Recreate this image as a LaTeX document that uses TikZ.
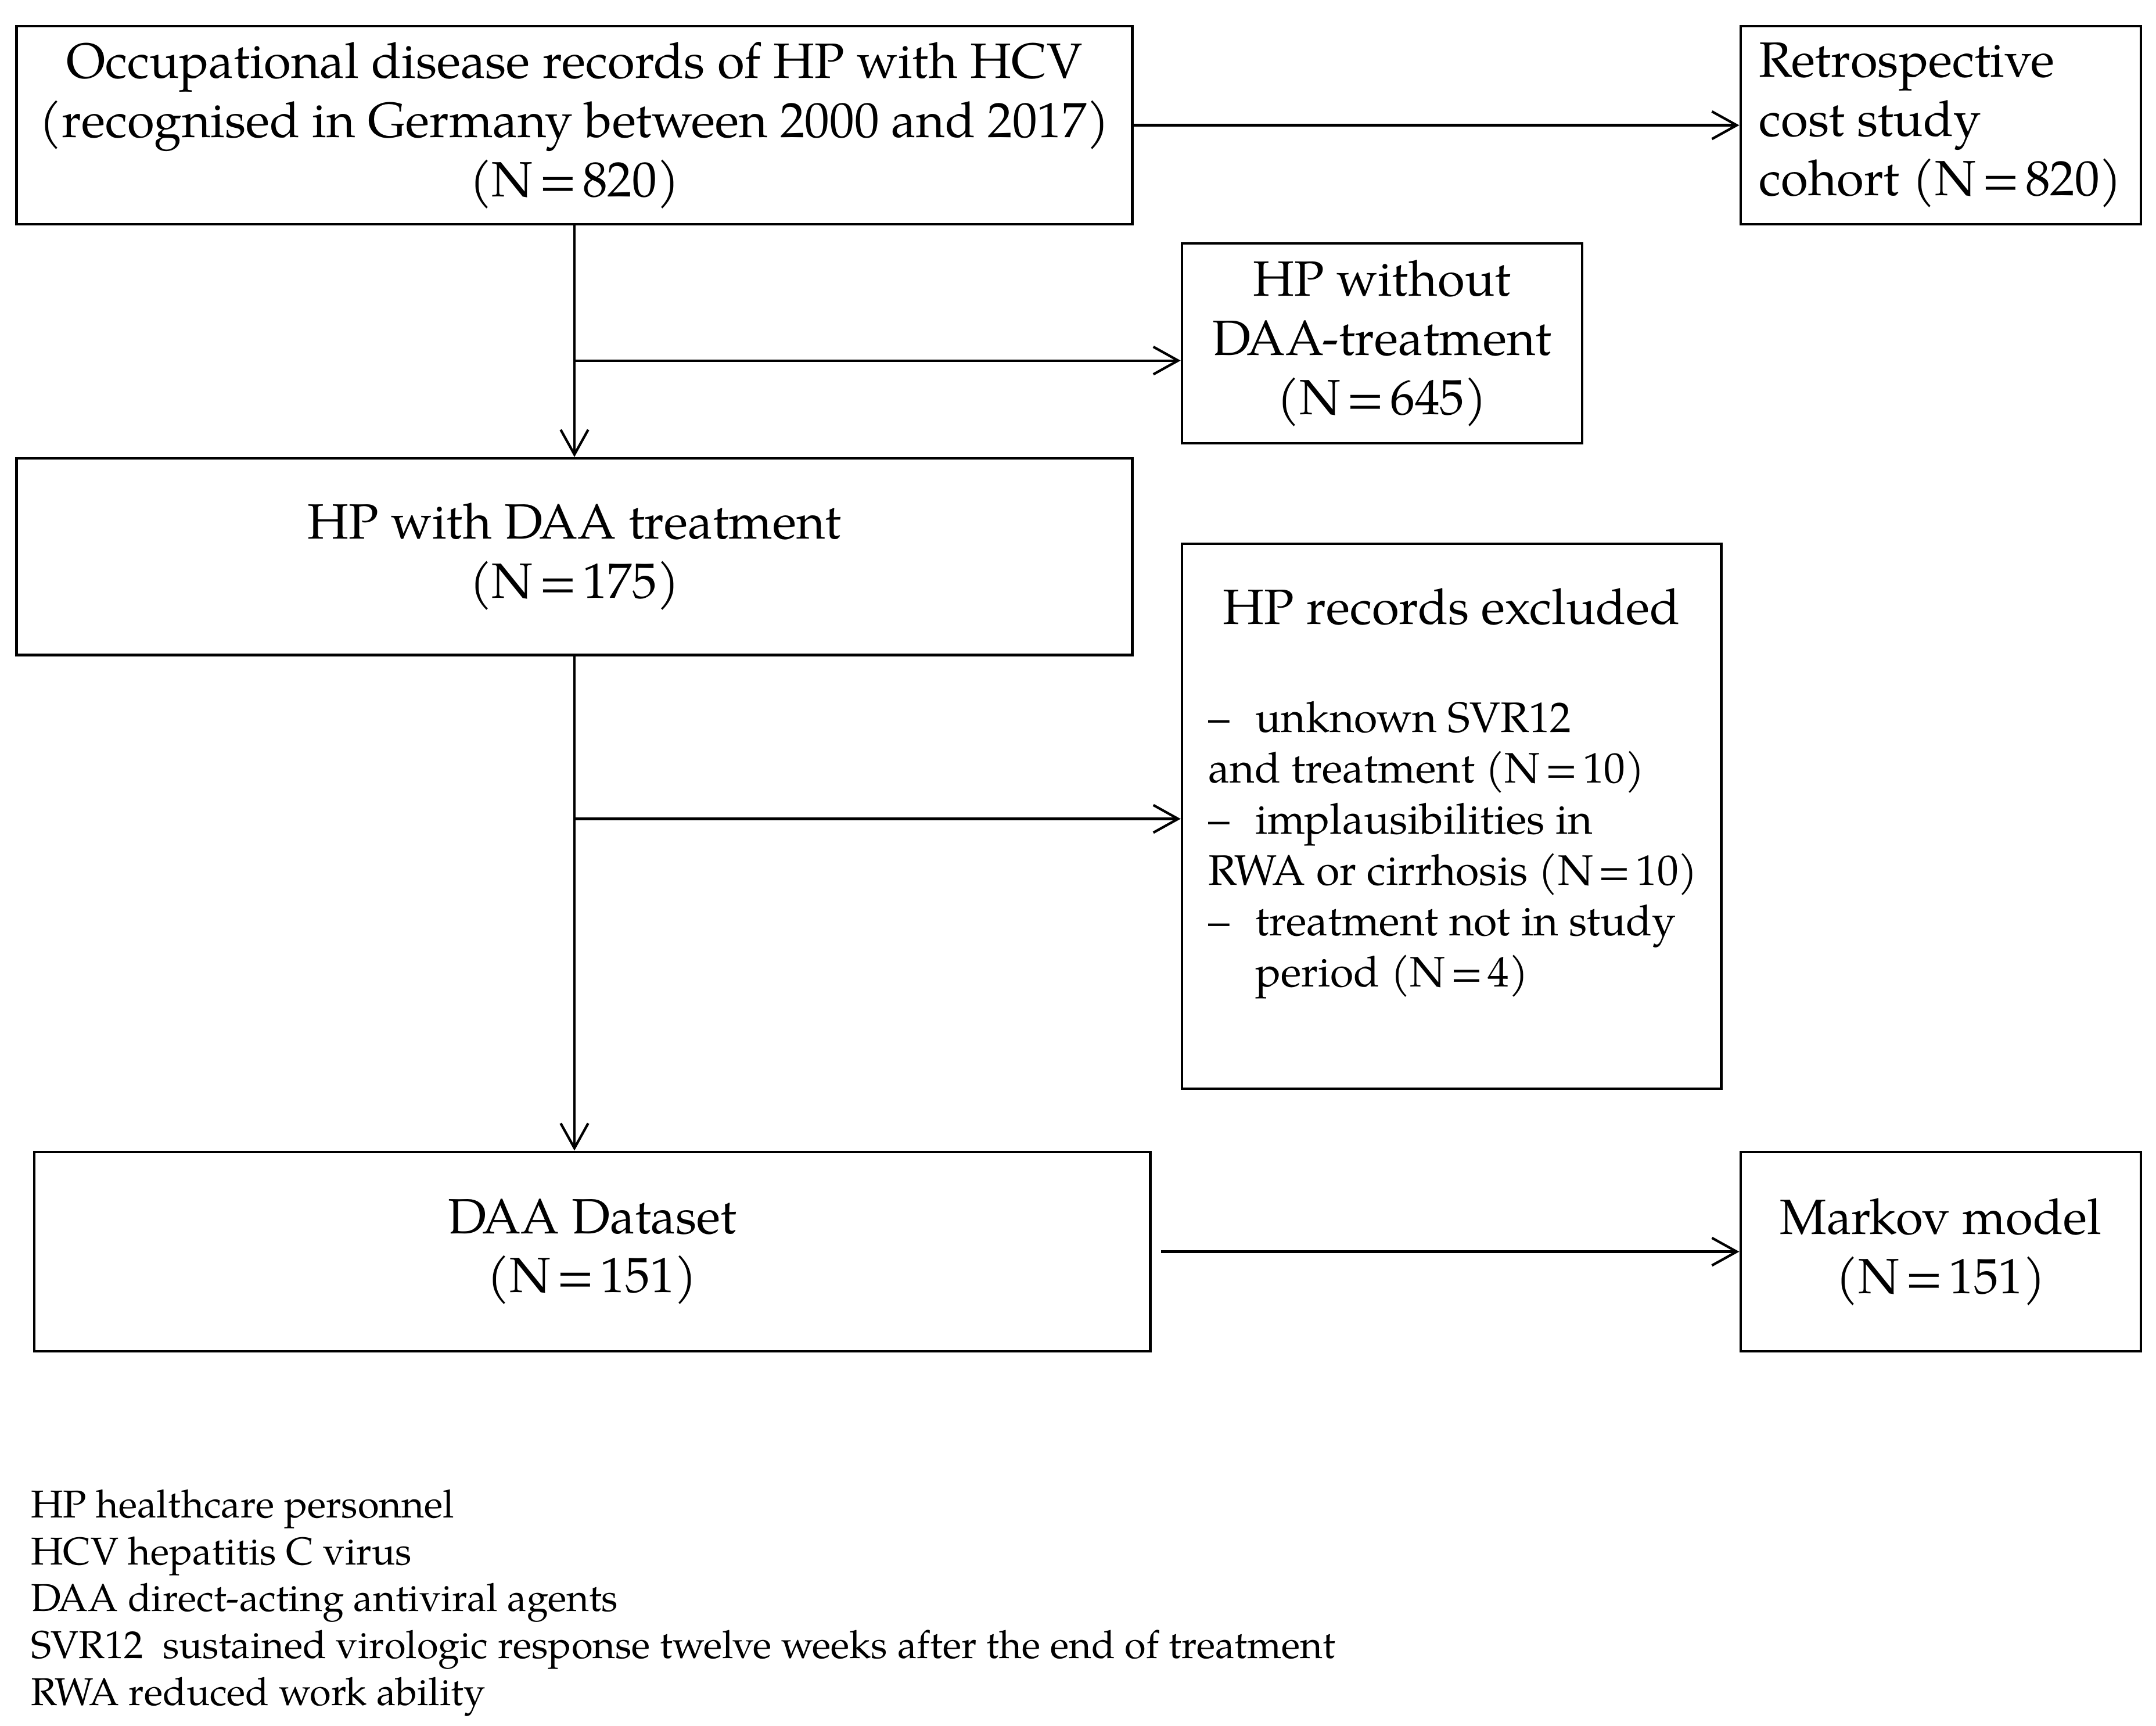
\documentclass[tikz,border=0pt]{standalone}
\usepackage{fontspec}
\setmainfont{TeX Gyre Pagella}
\usetikzlibrary{arrows.meta}
\newcommand{\eqs}{\hspace{0.12em}=\hspace{0.12em}}
\newcommand{\bul}{\makebox[17pt][l]{–}}
\begin{document}
\begin{tikzpicture}[x=0.5pt,y=-0.5pt,
 box/.style={draw,line width=0.9pt,inner sep=0pt,align=center,font=\fontsize{18}{21.5}\selectfont},
 arr/.style={line width=0.9pt,-{Straight Barb[length=9pt,width=10pt]}},
 txt/.style={inner sep=0pt,anchor=base west,font=\fontsize{15.5}{18.5}\selectfont},
 leg/.style={inner sep=0pt,anchor=base west,font=\fontsize{14.1}{17}\selectfont}]
\useasboundingbox (0,0) rectangle (1567,1254);
\node[box,minimum width=405.5pt,minimum height=72pt] (rec) at (417.5,91)
  {Occupational disease records of HP with HCV\\(recognised in Germany between 2000 and 2017)\\(N\eqs 820)};
\node[box,align=left,minimum width=145.5pt,minimum height=72pt] (retro) at (1410.5,91)
  {Retrospective\\cost study\\cohort (N\eqs 820)};
\node[box,minimum width=145.5pt,minimum height=72.5pt] (nwo) at (1004.5,249.5)
  {HP without\\DAA-treatment\\(N\eqs 645)};
\node[box,minimum width=405.5pt,minimum height=71.5pt] (treat) at (417.5,404.5)
  {HP with DAA treatment\\(N\eqs 175)};
\node[box,minimum width=196pt,minimum height=198pt] (exc) at (1055,593) {};
\node[box,minimum width=405.5pt,minimum height=72.5pt] (ds) at (430.5,909.5)
  {DAA Dataset\\(N\eqs 151)};
\node[box,minimum width=145.5pt,minimum height=72.5pt] (mk) at (1410.5,909.5)
  {Markov model\\(N\eqs 151)};
% excluded contents
\node[inner sep=0pt,font=\fontsize{18}{21.5}\selectfont] (exctitle) at (1055,441) {HP records excluded};
\node[txt] (e1) at (878,532) {\bul unknown SVR12};
\node[txt] (e2) at (878,569) {and treatment (N\eqs 10)};
\node[txt] (e3) at (878,606) {\bul implausibilities in};
\node[txt] (e4) at (878,643) {RWA or cirrhosis (N\eqs 10)};
\node[txt] (e5) at (878,680) {\bul treatment not in study};
\node[txt] (e6) at (912,717) {period (N\eqs 4)};
% connectors
\coordinate (b1) at (417,262);
\coordinate (b2) at (417,595);
\draw[arr] (rec.east) -- (rec.east -| retro.west);
\draw[arr] (rec.south) -- (treat.north);
\draw[arr] (b1) -- (b1 -| nwo.west);
\draw[arr] (treat.south) -- (treat.south |- ds.north);
\draw[arr] (b2) -- (b2 -| exc.west);
\draw[arr] ([xshift=3.5pt]ds.east) -- (ds.east -| mk.west);
% legend
\node[leg] (l1) at (22,1103) {HP healthcare personnel};
\node[leg] (l2) at (22,1137) {HCV hepatitis C virus};
\node[leg] (l3) at (22,1171) {DAA direct-acting antiviral agents};
\node[leg] (l4) at (22,1205) {SVR12\ \ sustained virologic response twelve weeks after the end of treatment};
\node[leg] (l5) at (22,1239) {RWA reduced work ability};
\end{tikzpicture}
\end{document}
